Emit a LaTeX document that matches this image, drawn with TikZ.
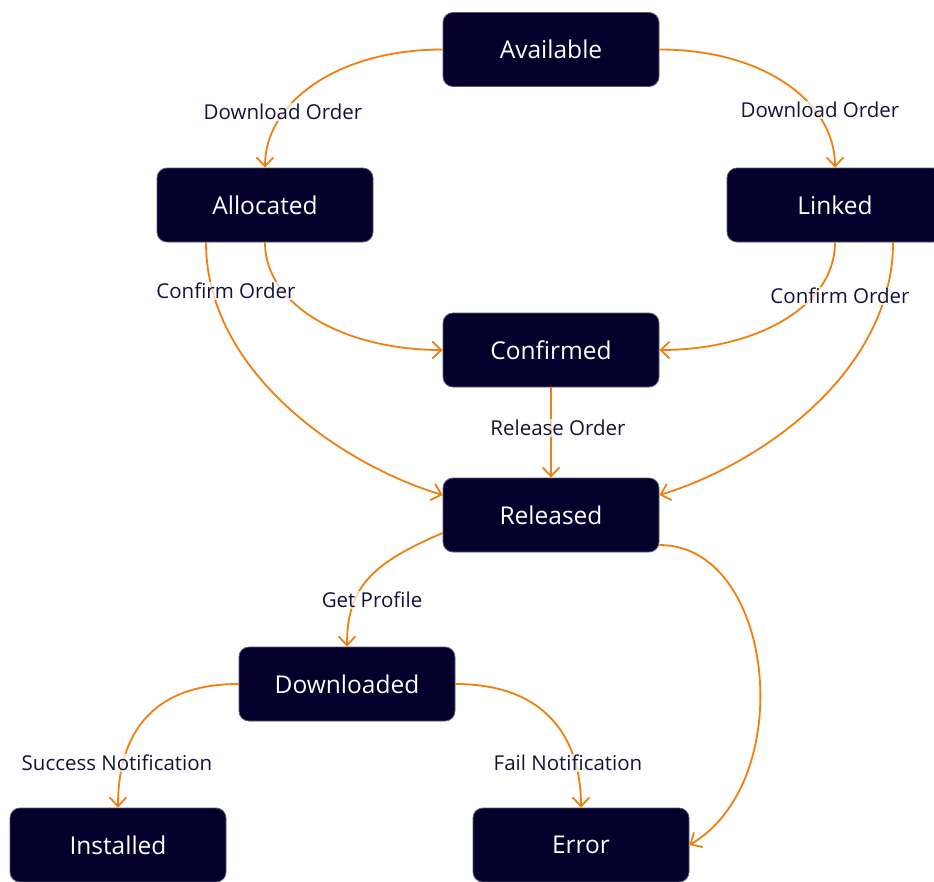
\documentclass[tikz,border=0pt]{standalone}
\usepackage{fontspec}
\setmainfont{Open Sans}
\usetikzlibrary{arrows.meta}
\definecolor{navy}{HTML}{03012B}
\definecolor{navyedge}{HTML}{5A5A72}
\definecolor{edgeor}{HTML}{F07F0E}
\definecolor{lbl}{HTML}{14143A}
\begin{document}
\begin{tikzpicture}[x=1pt,y=-1pt,
  state/.style={draw=navyedge, line width=0.8pt, fill=navy, rounded corners=10pt,
    minimum width=216pt, minimum height=74pt, text=white,
    font=\fontsize{24.5}{28}\selectfont, inner sep=0pt},
  flow/.style={draw=edgeor, line width=1.8pt,
    -{Straight Barb[length=9pt,width=17pt,line width=1.8pt]}},
  lab/.style={fill=white, fill opacity=0.7, text opacity=1, text=lbl,
    font=\fontsize{20.5}{24}\selectfont, inner sep=1pt}]
\useasboundingbox (0,0) rectangle (934,881);
\fill[white] (0,0) rectangle (934,881);

\node[state] (avail)  at (551,49.5) {Available};
\node[state] (alloc)  at (265,205)  {Allocated};
\node[state] (linked) at (835,205)  {Linked};
\node[state] (conf)   at (551,350)  {Confirmed};
\node[state] (rel)    at (551,515)  {Released};
\node[state] (dl)     at (347,684)  {Downloaded};
\node[state] (inst)   at (118,845)  {Installed};
\node[state] (err)    at (581,845)  {Error};

\draw[flow] (avail.west) .. controls +(-105,0) and +(0,-65) .. (alloc.north);
\draw[flow] (avail.east) .. controls +(105,0) and +(0,-65) .. (linked.north);
\draw[flow] (alloc.south) .. controls +(0,65) and +(-95,0) .. (conf.west);
\draw[flow] ([xshift=-59pt]alloc.south) .. controls +(0,130) and +(-100,-30) .. ([yshift=20pt]rel.west);
\draw[flow] (linked.south) .. controls +(0,65) and +(95,0) .. (conf.east);
\draw[flow] ([xshift=58pt]linked.south) .. controls +(0,130) and +(100,-30) .. ([yshift=20pt]rel.east);
\draw[flow] (conf.south) -- (rel.north);
\draw[flow] ([yshift=-18pt]rel.west) .. controls +(-70,30) and +(0,-60) .. (dl.north);
\draw[flow] ([yshift=-30pt]rel.east) .. controls +(115,0) and +(110,-65) .. (err.east);
\draw[flow] (dl.west) .. controls +(-90,0) and +(0,-70) .. (inst.north);
\draw[flow] (dl.east) .. controls +(90,0) and +(0,-70) .. (err.north);

\node[lab] (l1) at (283,112) {Download Order};
\node[lab] (l2) at (820,110) {Download Order};
\node[lab] (l3) at (226,291) {Confirm Order};
\node[lab] (l4) at (840,296) {Confirm Order};
\node[lab] (l5) at (558,428) {Release Order};
\node[lab] (l6) at (372,600) {Get Profile};
\node[lab] (l7) at (117,763) {Success Notification};
\node[lab] (l8) at (568,763) {Fail Notification};
\end{tikzpicture}
\end{document}
